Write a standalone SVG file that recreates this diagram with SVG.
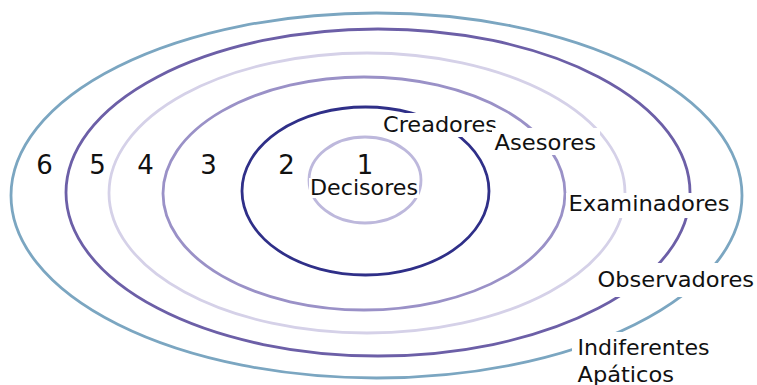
<svg xmlns="http://www.w3.org/2000/svg" width="757" height="385" viewBox="0 0 757 385">
  <style>
    .ring { fill: none; stroke-width: 2.8; }
    .num { font-family: "DejaVu Sans", "Liberation Sans", sans-serif; font-size: 26px; fill: #111; text-anchor: middle; }
    .lbl { font-family: "DejaVu Sans", "Liberation Sans", sans-serif; font-size: 21px; fill: #111; }
    .bg { fill: #ffffff; }
  </style>
  <rect width="757" height="385" fill="#ffffff"/>
  <g id="rings">
    <g id="ring6"><ellipse class="ring" cx="376.5" cy="195.5" rx="365.5" ry="182.5" stroke="#7ba6c1"/></g>
    <g id="ring5"><ellipse class="ring" cx="378" cy="192.5" rx="312" ry="163.5" stroke="#6c5fa7"/></g>
    <g id="ring4"><ellipse class="ring" cx="367" cy="193" rx="258" ry="140" stroke="#d5d1e8"/></g>
    <g id="ring3"><ellipse class="ring" cx="364" cy="193.5" rx="201" ry="116.5" stroke="#9a91c7"/></g>
    <g id="ring2"><ellipse class="ring" cx="365.5" cy="191" rx="123.5" ry="84" stroke="#2f2f88"/></g>
    <g id="ring1"><ellipse class="ring" cx="365" cy="180" rx="56" ry="43" stroke="#bdb8dc"/></g>
  </g>
  <g id="numbers">
    <text class="num" x="44.5" y="173.5">6</text>
    <text class="num" x="97.5" y="173.5">5</text>
    <text class="num" x="145.5" y="173.5">4</text>
    <text class="num" x="208.5" y="173.5">3</text>
    <text class="num" x="286.5" y="173.5">2</text>
    <text class="num" x="365" y="173.5">1</text>
  </g>
  <g id="label-decisores">
    <rect class="bg" x="309" y="178" width="110" height="20"/>
    <text class="lbl" x="310" y="195" textLength="108" lengthAdjust="spacingAndGlyphs">Decisores</text>
  </g>
  <g id="label-creadores">
    <rect class="bg" x="380" y="113" width="120" height="24"/>
    <text class="lbl" x="383" y="131.5" textLength="114" lengthAdjust="spacingAndGlyphs">Creadores</text>
  </g>
  <g id="label-asesores">
    <rect class="bg" x="492" y="128" width="108" height="27"/>
    <text class="lbl" x="494.5" y="150" textLength="101.5" lengthAdjust="spacingAndGlyphs">Asesores</text>
  </g>
  <g id="label-examinadores">
    <rect class="bg" x="566" y="193" width="166" height="25"/>
    <text class="lbl" x="568.5" y="211" textLength="161" lengthAdjust="spacingAndGlyphs">Examinadores</text>
  </g>
  <g id="label-observadores">
    <rect class="bg" x="594" y="263" width="163" height="34"/>
    <text class="lbl" x="597.5" y="286.5" textLength="156.5" lengthAdjust="spacingAndGlyphs">Observadores</text>
  </g>
  <g id="label-indiferentes">
    <rect class="bg" x="572" y="332" width="141" height="53"/>
    <text class="lbl" x="577.5" y="355" textLength="132" lengthAdjust="spacingAndGlyphs">Indiferentes</text>
    <text class="lbl" x="577.5" y="381.5" textLength="96.5" lengthAdjust="spacingAndGlyphs">Apáticos</text>
  </g>
</svg>
